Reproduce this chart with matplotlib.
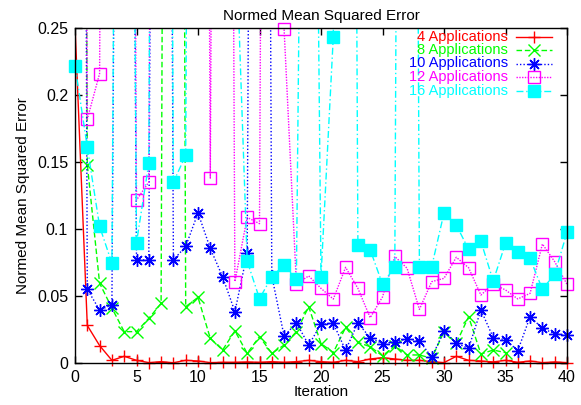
import numpy as np
import matplotlib
matplotlib.use("Agg")
import matplotlib.pyplot as plt

plt.rcParams['font.family'] = ['Liberation Sans', 'DejaVu Sans']

# iterations 0..40, values above 0.25 are off the chart in the original
iterations = np.arange(0, 41)

apps_4 = [0.252, 0.028, 0.013, 0.002, 0.005, 0.002, 0.0003, 0.001, 0.0002, 0.002,
          0.0015, 0.0003, 0.0005, 0.0005, 0.0008, 0.0005, 0.001, 0.0005, 0.001, 0.002,
          0.001, 0.0005, 0.002, 0.001, 0.003, 0.004, 0.003, 0.002, 0.002, 0.001,
          0.0003, 0.005, 0.002, 0.0015, 0.0008, 0.002, 0.0005, 0.0015, 0.0003, 0.0008,
          0.0003]
apps_8 = [2.5, 0.148, 0.0595, 0.041, 0.0234, 0.0234, 0.0333, 0.0445, 2.5, 0.042,
          0.049, 0.0184, 0.0097, 0.024, 0.0072, 0.0197, 0.0072, 0.0134, 0.0234, 0.042,
          0.0145, 0.0078, 0.0265, 0.0153, 0.0122, 0.0053, 0.0128, 0.006, 0.006, 0.0035,
          0.0234, 0.0147, 0.0346, 0.0067, 0.0097, 0.0077, np.nan, np.nan, np.nan, np.nan,
          np.nan]
apps_10 = [2.5, 0.055, 0.0395, 0.0433, 1.5, 0.0769, 0.0769, 2.0, 0.0769, 0.087,
           0.112, 0.0855, 0.0644, 0.0383, 0.082, 2.0, 0.065, 0.020, 0.030, 0.0134,
           0.029, 0.0296, 0.0095, 0.030, 0.0187, 0.0145, 0.0157, 0.018, 0.0167, 0.0042,
           0.0239, 0.0147, 0.011, 0.0396, 0.019, 0.0175, 0.0092, 0.0346, 0.0259, 0.0218,
           0.0209]
apps_12 = [2.5, 0.182, 0.216, 2.0, 2.0, 0.1216, 0.135, 2.0, 2.0, 2.0,
           2.0, 0.138, 2.0, 0.0607, 0.1087, 0.104, 2.0, 0.249, 0.059, 0.065,
           0.0557, 0.0477, 0.0714, 0.0557, 0.0338, 0.0493, 0.0795, 0.0707, 0.040, 0.0607,
           0.0632, 0.0789, 0.0711, 0.0507, 0.059, 0.0545, 0.0478, 0.052, 0.0888, 0.0756,
           0.0587]
apps_16 = [0.222, 0.161, 0.102, 0.0744, 1.5, 0.0898, 0.149, 2.0, 0.135, 0.155,
           2.0, 2.0, 2.0, 0.34, 0.076, 0.048, 0.0644, 0.073, 0.063, 1.0,
           0.0644, 0.2435, 2.0, 0.088, 0.0845, 0.0588, 0.0719, 2.0, 0.0719, 0.0719,
           0.112, 0.103, 0.0848, 0.0909, 0.0612, 0.0893, 0.0831, 0.078, 0.055, 0.0664,
           0.0975]

series = [apps_4, apps_8, apps_10, apps_12, apps_16]
labels = ["4 Applications", "8 Applications", "10 Applications",
          "12 Applications", "16 Applications"]
colors = ["#ff0000", "#00ff00", "#0000ff", "#ff00ff", "#00ffff"]
styles = ["-", (0, (4, 2)), (0, (1, 1.5)), (0, (1, 1)), (0, (5, 2, 1, 2))]
markers = ["+", "x", (8, 2, 0), "s", "s"]
faces = [None, None, None, "none", "#00ffff"]

fig = plt.figure(figsize=(5.81, 4.05), dpi=100)
ax = fig.add_axes([75 / 581, 42 / 405, 492 / 581, 335 / 405])

for vals, c, ls, m, fc in zip(series, colors, styles, markers, faces):
    y = np.array(vals, dtype=float)
    ax.plot(iterations, y, linestyle=ls, color=c, lw=1)
    ok = y <= 0.25
    kw = dict(marker=m, color=c, linestyle="none", markersize=9,
              markeredgewidth=1, clip_on=False)
    if fc is not None:
        kw["markerfacecolor"] = fc
    ax.plot(iterations[ok], y[ok], **kw)

# legend drawn by hand so labels are right aligned like gnuplot
row_px = [36.5, 50.0, 63.5, 77.0, 90.5]
for lab, c, ls, m, fc, rp in zip(labels, colors, styles, markers, faces, row_px):
    ry = (363 - rp) / 335
    ax.text(0.88, ry, lab, color=c, ha="right", va="center", fontsize=10.5,
            transform=ax.transAxes)
    ax.plot([0.897, 0.970], [ry, ry], linestyle=ls, color=c, lw=1,
            transform=ax.transAxes, clip_on=False)
    kw = dict(marker=m, color=c, markersize=9, markeredgewidth=1)
    if fc is not None:
        kw["markerfacecolor"] = fc
    ax.plot([0.933], [ry], transform=ax.transAxes, clip_on=False, **kw)

ax.set_xlim(0, 40)
ax.set_ylim(0, 0.25)
ax.set_xticks(np.arange(0, 41, 5))
ax.set_yticks([0, 0.05, 0.1, 0.15, 0.2, 0.25])
ax.set_yticklabels(["0", "0.05", "0.1", "0.15", "0.2", "0.25"])
ax.tick_params(direction="in", top=True, right=True, length=5, width=1,
               labelsize=11.5, pad=5)
for s in ax.spines.values():
    s.set_linewidth(1)

ax.set_title("Normed Mean Squared Error", fontsize=11, pad=6)
ax.set_xlabel("Iteration", fontsize=11, labelpad=0)
ax.set_ylabel("Normed Mean Squared Error", fontsize=11, labelpad=5)

plt.savefig("out.png", dpi=100)
